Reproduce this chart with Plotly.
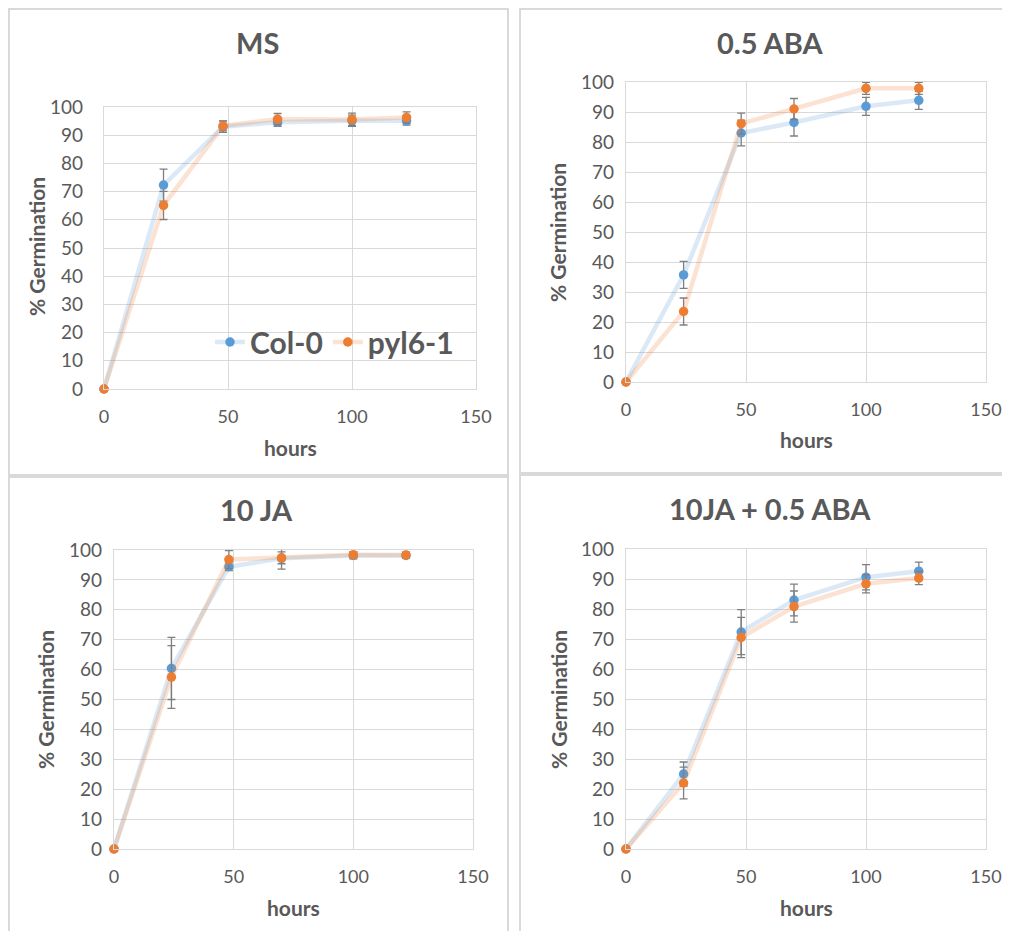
import plotly.graph_objects as go

# ---------------- data ----------------
hours = [0, 24, 48, 70, 100, 122]
panel_titles = ["MS", "0.5 ABA", "10 JA", "10JA + 0.5 ABA"]
series_names = ["Col-0", "pyl6-1"]
x_ticks = [0, 50, 100, 150]
y_ticks = [0, 10, 20, 30, 40, 50, 60, 70, 80, 90, 100]

col0_ms = [0, 72.3, 93.0, 94.6, 95.1, 95.1]
col0_ms_err = [0, 5.7, 2.0, 1.5, 2.0, 1.5]
pyl_ms = [0, 65.1, 93.3, 95.7, 95.6, 96.3]
pyl_ms_err = [0, 5.0, 1.8, 2.0, 2.2, 2.0]

col0_aba = [0, 35.7, 83.0, 86.5, 91.9, 93.9]
col0_aba_err = [0, 4.5, 4.3, 4.5, 3.0, 3.0]
pyl_aba = [0, 23.5, 86.1, 91.0, 97.9, 97.9]
pyl_aba_err = [0, 4.5, 3.5, 3.5, 2.0, 2.0]

col0_ja = [0, 60.4, 94.4, 97.2, 98.2, 98.2]
col0_ja_err = [0, 10.4, 1.3, 3.6, 1.2, 1.0]
pyl_ja = [0, 57.5, 96.8, 97.4, 98.4, 98.3]
pyl_ja_err = [0, 10.5, 3.0, 2.0, 1.0, 1.0]

col0_jaaba = [0, 25.0, 72.3, 83.0, 90.6, 92.6]
col0_jaaba_err = [0, 4.0, 7.5, 5.3, 4.2, 3.0]
pyl_jaaba = [0, 22.0, 70.5, 80.8, 88.4, 90.3]
pyl_jaaba_err = [0, 5.3, 6.7, 5.2, 3.0, 2.2]

panels_col0 = [(col0_ms, col0_ms_err), (col0_aba, col0_aba_err),
               (col0_ja, col0_ja_err), (col0_jaaba, col0_jaaba_err)]
panels_pyl = [(pyl_ms, pyl_ms_err), (pyl_aba, pyl_aba_err),
              (pyl_ja, pyl_ja_err), (pyl_jaaba, pyl_jaaba_err)]

# ---------------- layout geometry (page pixels) ----------------
PAGE_W, PAGE_H = 1010, 939
BODY = 8                      # default page body margin
W, H = PAGE_W - 2 * BODY, PAGE_H - 2 * BODY
plot_boxes = [(104, 476, 107, 389), (626, 986, 82, 382),
              (114, 473, 550, 849), (626, 986, 549, 849)]
title_pos = [(258, 42), (770, 42), (257, 509), (770, 508)]
xtitle_pos = [(290, 447), (806, 440), (293, 907), (806, 907)]
ytitle_pos = [(36, 247), (558, 233), (45, 700), (558, 700)]
frames = [(9, 508, 9, 475), (520, 1012, 9, 473),
          (9, 508, 477, 945), (520, 1012, 475, 945)]

BLUE = "#5B9BD5"
ORANGE = "#ED7D31"
BLUE_LINE = "rgba(91,155,213,0.22)"
ORANGE_LINE = "rgba(237,125,49,0.22)"
TXT = "#595959"
GRID = "#D9D9D9"
FONT = "Lato"

def px_x(p):
    return (p - BODY) / W

def px_y(p):
    return 1 - (p - BODY) / H

fig = go.Figure()

for i in range(4):
    ax = "" if i == 0 else str(i + 1)
    (cy, ce) = panels_col0[i]
    (py, pe) = panels_pyl[i]
    for name, ys, es, mc, lc in [(series_names[0], cy, ce, BLUE, BLUE_LINE),
                                  (series_names[1], py, pe, ORANGE, ORANGE_LINE)]:
        fig.add_trace(go.Scatter(
            x=hours, y=ys, name=name, mode="lines+markers",
            xaxis="x" + ax, yaxis="y" + ax,
            line=dict(color=lc, width=4.5),
            marker=dict(color=mc, size=9.5, line=dict(width=0)),
            error_y=dict(type="data", array=es, visible=True,
                         color="#7F7F7F", thickness=1.3, width=4),
            showlegend=(i == 0),
            cliponaxis=False,
        ))
    x0, x1, y0, y1 = plot_boxes[i]
    fig.layout["xaxis" + ax] = dict(
        domain=[px_x(x0), px_x(x1)], range=[0, 150], anchor="y" + ax,
        tickvals=x_ticks, showgrid=True, gridcolor=GRID, gridwidth=1.3,
        showline=True, linecolor=GRID, linewidth=1.3, mirror=True,
        zeroline=False, ticks="outside", ticklen=11, tickcolor="rgba(0,0,0,0)",
        tickfont=dict(family=FONT, size=18, color=TXT), fixedrange=True,
        automargin=False, ticklabeloverflow="allow",
    )
    fig.layout["yaxis" + ax] = dict(
        domain=[px_y(y1), px_y(y0)], range=[0, 100], anchor="x" + ax,
        tickvals=y_ticks, showgrid=True, gridcolor=GRID, gridwidth=1.3,
        showline=True, linecolor=GRID, linewidth=1.3, mirror=True,
        zeroline=False, ticks="outside", ticklen=(16 if i == 0 else 7),
        tickcolor="rgba(0,0,0,0)",
        tickfont=dict(family=FONT, size=19, color=TXT), fixedrange=True,
        automargin=False, ticklabeloverflow="allow",
    )
    tx, ty = title_pos[i]
    fig.add_annotation(text=panel_titles[i], x=px_x(tx), y=px_y(ty),
                       xref="paper", yref="paper", showarrow=False,
                       xanchor="center", yanchor="middle",
                       font=dict(family=FONT, size=29, color=TXT, weight="bold"))
    hx, hy = xtitle_pos[i]
    fig.add_annotation(text="hours", x=px_x(hx), y=px_y(hy),
                       xref="paper", yref="paper", showarrow=False,
                       xanchor="center", yanchor="middle",
                       font=dict(family=FONT, size=21, color=TXT, weight="bold"))
    gx, gy = ytitle_pos[i]
    fig.add_annotation(text="% Germination", x=px_x(gx), y=px_y(gy),
                       xref="paper", yref="paper", showarrow=False, textangle=-90,
                       xanchor="center", yanchor="middle",
                       font=dict(family=FONT, size=21, color=TXT, weight="bold"))
    fx0, fx1, fy0, fy1 = frames[i]
    fig.add_shape(type="rect", xref="paper", yref="paper",
                  x0=px_x(fx0), x1=px_x(fx1), y0=px_y(fy1), y1=px_y(fy0),
                  line=dict(color=GRID, width=2), layer="below")

fig.update_layout(
    width=W, height=H,
    margin=dict(l=0, r=0, t=0, b=0, pad=0, autoexpand=False),
    paper_bgcolor="white", plot_bgcolor="white",
    font=dict(family=FONT, color=TXT),
    legend=dict(orientation="h", x=px_x(210), y=px_y(342),
                xanchor="left", yanchor="middle", bgcolor="rgba(0,0,0,0)",
                font=dict(family=FONT, size=30, color=TXT, weight="bold"),
                itemwidth=30, tracegroupgap=0),
)

fig.write_html("out.html")
